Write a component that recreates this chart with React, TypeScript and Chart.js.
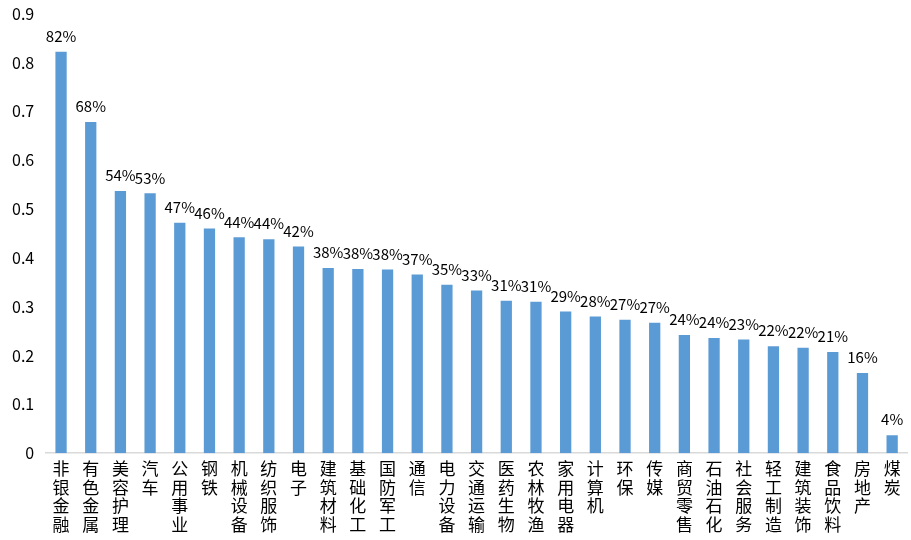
import React, { useEffect, useRef } from "react";
import { Chart, registerables } from "chart.js";

Chart.register(...registerables);

const categories = ["非银金融","有色金属","美容护理","汽车","公用事业","钢铁","机械设备","纺织服饰","电子","建筑材料","基础化工","国防军工","通信","电力设备","交通运输","医药生物","农林牧渔","家用电器","计算机","环保","传媒","商贸零售","石油石化","社会服务","轻工制造","建筑装饰","食品饮料","房地产","煤炭"];
const values = [0.822,0.678,0.537,0.532,0.472,0.46,0.442,0.438,0.423,0.379,0.377,0.376,0.366,0.345,0.333,0.312,0.31,0.29,0.28,0.273,0.267,0.242,0.236,0.233,0.219,0.216,0.207,0.164,0.037];
const yTicks = [0,0.1,0.2,0.3,0.4,0.5,0.6,0.7,0.8,0.9];

const FONT = "'Noto Sans CJK SC', 'Noto Sans', sans-serif";

const labelPlugin = {
  id: "barLabels",
  afterDatasetsDraw(chart: any) {
    const ctx = chart.ctx;
    const meta = chart.getDatasetMeta(0);
    ctx.save();
    ctx.fillStyle = "#000";
    ctx.font = `15px ${FONT}`;
    ctx.textAlign = "center";
    ctx.textBaseline = "bottom";
    meta.data.forEach((bar: any, i: number) => {
      const v = values[i];
      ctx.fillText(Math.round(v * 100) + "%", bar.x, bar.y - 8);
    });
    ctx.restore();
  },
};

export default function App() {
  const ref = useRef<HTMLCanvasElement>(null);
  useEffect(() => {
    if (!ref.current) return;
    const chart = new Chart(ref.current, {
      type: "bar",
      data: {
        labels: categories.map((c) => c.split("")),
        datasets: [
          {
            data: values,
            backgroundColor: "#5b9bd5",
            barPercentage: 0.38,
            categoryPercentage: 1,
          },
        ],
      },
      options: {
        animation: false,
        responsive: false,
        maintainAspectRatio: false,
        layout: { padding: { top: 0, right: 4, left: 0, bottom: 0 } },
        plugins: { legend: { display: false }, tooltip: { enabled: false } },
        scales: {
          x: {
            grid: { display: false, drawTicks: false },
            border: { display: true, color: "#d9d9d9", width: 1.5 },
            ticks: {
              color: "#000",
              font: { size: 17, family: FONT, lineHeight: 1.1 },
              maxRotation: 0,
              autoSkip: false,
              padding: 6,
            },
          },
          y: {
            min: 0,
            max: 0.9,
            afterBuildTicks: (axis: any) => {
              axis.ticks = yTicks.map((v) => ({ value: v }));
            },
            grid: { display: false, drawTicks: false },
            border: { display: false },
            ticks: {
              color: "#000",
              font: { size: 16, family: FONT },
              padding: 12,
              callback: (v: any) => (v === 0 ? "0" : Number(v).toFixed(1)),
            },
          },
        },
      },
      plugins: [labelPlugin],
    });
    return () => chart.destroy();
  }, []);
  return (
    <div style={{ position: "fixed", left: 0, top: 0, width: 911, height: 540, background: "#fff", overflow: "hidden" }}>
      <canvas
        ref={ref}
        width={911}
        height={548}
        style={{ position: "absolute", left: 0, top: -8, width: 911, height: 548 }}
      />
    </div>
  );
}
